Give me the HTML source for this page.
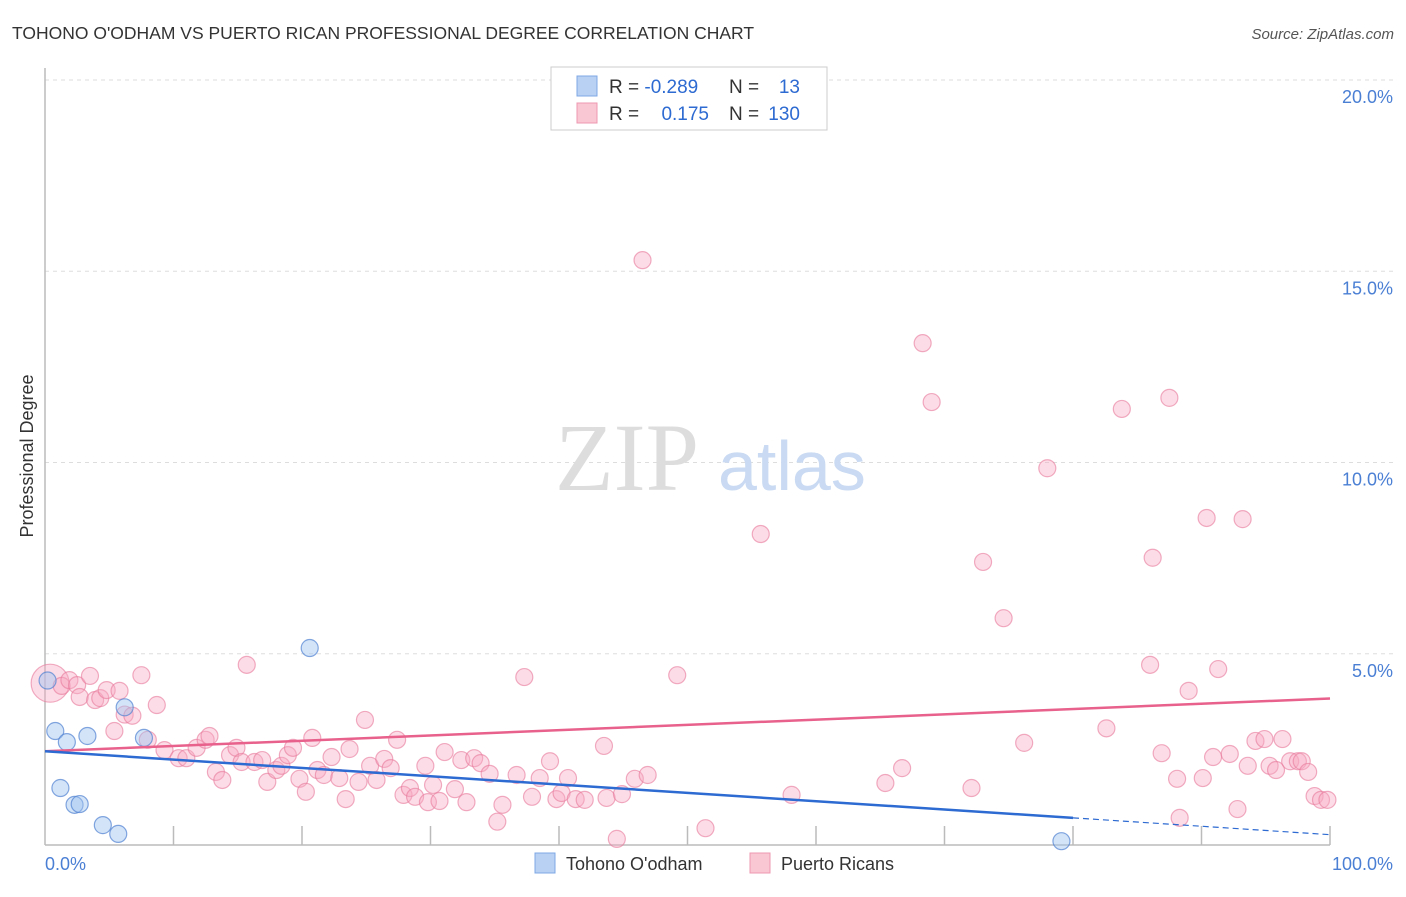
<!DOCTYPE html>
<html><head><meta charset="utf-8"><style>
body{margin:0;background:#fff;font-family:"Liberation Sans",sans-serif}
</style></head><body>
<svg width="1406" height="892" xmlns="http://www.w3.org/2000/svg">
<text x="12" y="39" font-size="17.5" fill="#333">TOHONO O'ODHAM VS PUERTO RICAN PROFESSIONAL DEGREE CORRELATION CHART</text>
<text x="1394" y="39" font-size="15" fill="#555" font-style="italic" text-anchor="end">Source: ZipAtlas.com</text>
<g id="grid"></g>
<g><text x="555" y="490" font-family="Liberation Serif,serif" font-size="96" fill="#ddd">ZIP</text><text x="718" y="490" font-size="70" fill="#c9daf2">atlas</text></g>
<line x1="45" y1="68" x2="45" y2="845" stroke="#bbb" stroke-width="1.5"/>
<line x1="45" y1="845" x2="1330" y2="845" stroke="#bbb" stroke-width="1.5"/>
<g id="xticks"></g>
<g id="ylabels"></g>
<text x="45" y="870" font-size="18" fill="#4a7fd4">0.0%</text>
<text x="1393" y="870" font-size="18" fill="#4a7fd4" text-anchor="end">100.0%</text>
<text transform="translate(33,456) rotate(-90)" font-size="18" fill="#333" text-anchor="middle">Professional Degree</text>
<g id="pts"></g>
<g id="trends"></g>
<g>
<rect x="551" y="67" width="276" height="63" fill="#fff" stroke="#ccc"/>
<rect x="577" y="76" width="20" height="20" fill="#b9d2f3" stroke="#7ea8e4"/>
<rect x="577" y="103" width="20" height="20" fill="#f9c6d4" stroke="#ee98b0"/>
<text x="609" y="93" font-size="19" fill="#333">R = <tspan fill="#2d6ad1">-0.289</tspan></text>
<text x="729" y="93" font-size="19" fill="#333">N = </text><text x="800" y="93" font-size="19" fill="#2d6ad1" text-anchor="end">13</text>
<text x="609" y="120" font-size="19" fill="#333">R = </text><text x="709" y="120" font-size="19" fill="#2d6ad1" text-anchor="end">0.175</text>
<text x="729" y="120" font-size="19" fill="#333">N = </text><text x="800" y="120" font-size="19" fill="#2d6ad1" text-anchor="end">130</text>
</g>
<g>
<rect x="535" y="853" width="20" height="20" fill="#b9d2f3" stroke="#7ea8e4"/>
<text x="566" y="870" font-size="18" fill="#333">Tohono O'odham</text>
<rect x="750" y="853" width="20" height="20" fill="#f9c6d4" stroke="#ee98b0"/>
<text x="781" y="870" font-size="18" fill="#333">Puerto Ricans</text>
</g>
</svg>
<script>
const yTicks=[5,10,15,20];
const yTickLabels=["5.0%","10.0%","15.0%","20.0%"];
const xTicks=[10,20,30,40,50,60,70,80,90,100];
const blueX=[0.2,0.8,1.7,3.3,6.2,7.7,1.2,2.3,2.7,4.5,5.7,20.6,79.1];
const blueY=[4.3,2.98,2.69,2.85,3.6,2.8,1.49,1.05,1.07,0.52,0.29,5.15,0.1];
const pinkX=[0.4,1.3,1.9,2.5,3.5,2.7,3.9,4.3,4.8,5.8,7.5,8.7,6.2,6.8,5.4,8.0,9.3,10.4,11.0,11.8,12.5,12.8,13.3,13.8,14.4,14.9,15.3,15.7,16.3,16.9,17.3,18.0,18.4,18.9,19.3,19.8,20.3,20.8,21.2,21.7,22.3,22.9,23.4,23.7,24.4,24.9,25.3,25.8,26.4,26.9,27.4,27.9,28.4,28.8,29.6,29.8,30.2,30.7,31.1,31.9,32.4,32.8,33.4,33.9,34.6,35.2,35.6,36.7,37.3,37.9,38.5,39.3,39.8,40.2,40.7,41.3,42.0,43.5,43.7,44.5,44.9,45.9,46.5,46.9,49.2,51.4,55.7,58.1,65.4,66.7,68.3,69.0,72.1,73.0,74.6,76.2,78.0,82.6,83.8,86.0,86.2,86.9,87.5,88.1,88.3,89.0,90.1,90.4,90.9,91.3,92.2,92.8,93.2,93.6,94.2,94.9,95.3,95.8,96.3,96.9,97.5,97.8,98.3,98.8,99.3,99.8];
const pinkY=[4.23,4.16,4.31,4.18,4.42,3.87,3.79,3.84,4.05,4.03,4.44,3.66,3.41,3.38,2.98,2.75,2.48,2.27,2.27,2.54,2.75,2.85,1.91,1.7,2.35,2.54,2.17,4.71,2.17,2.22,1.65,1.96,2.07,2.35,2.54,1.73,1.39,2.8,1.96,1.83,2.3,1.75,1.2,2.51,1.65,3.27,2.07,1.7,2.25,2.01,2.75,1.31,1.49,1.26,2.07,1.12,1.57,1.15,2.43,1.46,2.22,1.12,2.27,2.14,1.86,0.61,1.05,1.83,4.39,1.26,1.75,2.19,1.20,1.36,1.75,1.20,1.18,2.59,1.23,0.16,1.33,1.73,15.29,1.83,4.44,0.44,8.13,1.31,1.62,2.01,13.12,11.58,1.49,7.4,5.93,2.67,9.85,3.05,11.4,4.71,7.51,2.4,11.69,1.73,0.71,4.03,1.75,8.55,2.3,4.6,2.38,0.94,8.52,2.07,2.72,2.77,2.07,1.96,2.77,2.19,2.19,2.19,1.91,1.28,1.18,1.18];
const NS="http://www.w3.org/2000/svg";
const px=v=>45+v*12.85, py=v=>845-v*38.25;
function mk(t,a,p){const e=document.createElementNS(NS,t);for(const k in a)e.setAttribute(k,a[k]);p.appendChild(e);return e;}
const grid=document.getElementById('grid'),yl=document.getElementById('ylabels'),xt=document.getElementById('xticks');
yTicks.forEach((v,i)=>{const l=mk('line',{x1:45,x2:1393,y1:py(v),y2:py(v),stroke:'#ddd','stroke-dasharray':'4,4'},grid);


const t=mk('text',{x:1393,y:py(v)+23,'font-size':18,fill:'#4a7fd4','text-anchor':'end'},yl);t.textContent=yTickLabels[i];

});
xTicks.forEach(v=>{const l=mk('line',{x1:px(v),x2:px(v),y1:826,y2:845,stroke:'#bbb','stroke-width':1.5},xt);

});
const pts=document.getElementById('pts');
pinkX.forEach((x,i)=>{const c=mk('circle',{cx:px(x),cy:py(pinkY[i]),r:i==0?19:8.5,fill:'rgba(247,170,195,0.4)',stroke:'rgba(232,120,155,0.6)','stroke-width':1.2},pts);

});
blueX.forEach((x,i)=>{const c=mk('circle',{cx:px(x),cy:py(blueY[i]),r:8.5,fill:'rgba(160,195,240,0.45)',stroke:'rgba(80,130,210,0.7)','stroke-width':1.2},pts);

});
const tr=document.getElementById('trends');
let l=mk('line',{x1:px(0),y1:py(2.45),x2:px(100),y2:py(3.83),stroke:'#e8608c','stroke-width':2.5},tr);


l=mk('line',{x1:px(0),y1:py(2.45),x2:px(80),y2:py(0.71),stroke:'#2d6ad1','stroke-width':2.5},tr);


l=mk('line',{x1:px(80),y1:py(0.71),x2:px(100),y2:py(0.27),stroke:'#2d6ad1','stroke-width':1.2,'stroke-dasharray':'6,4'},tr);


</script>
</body></html>
